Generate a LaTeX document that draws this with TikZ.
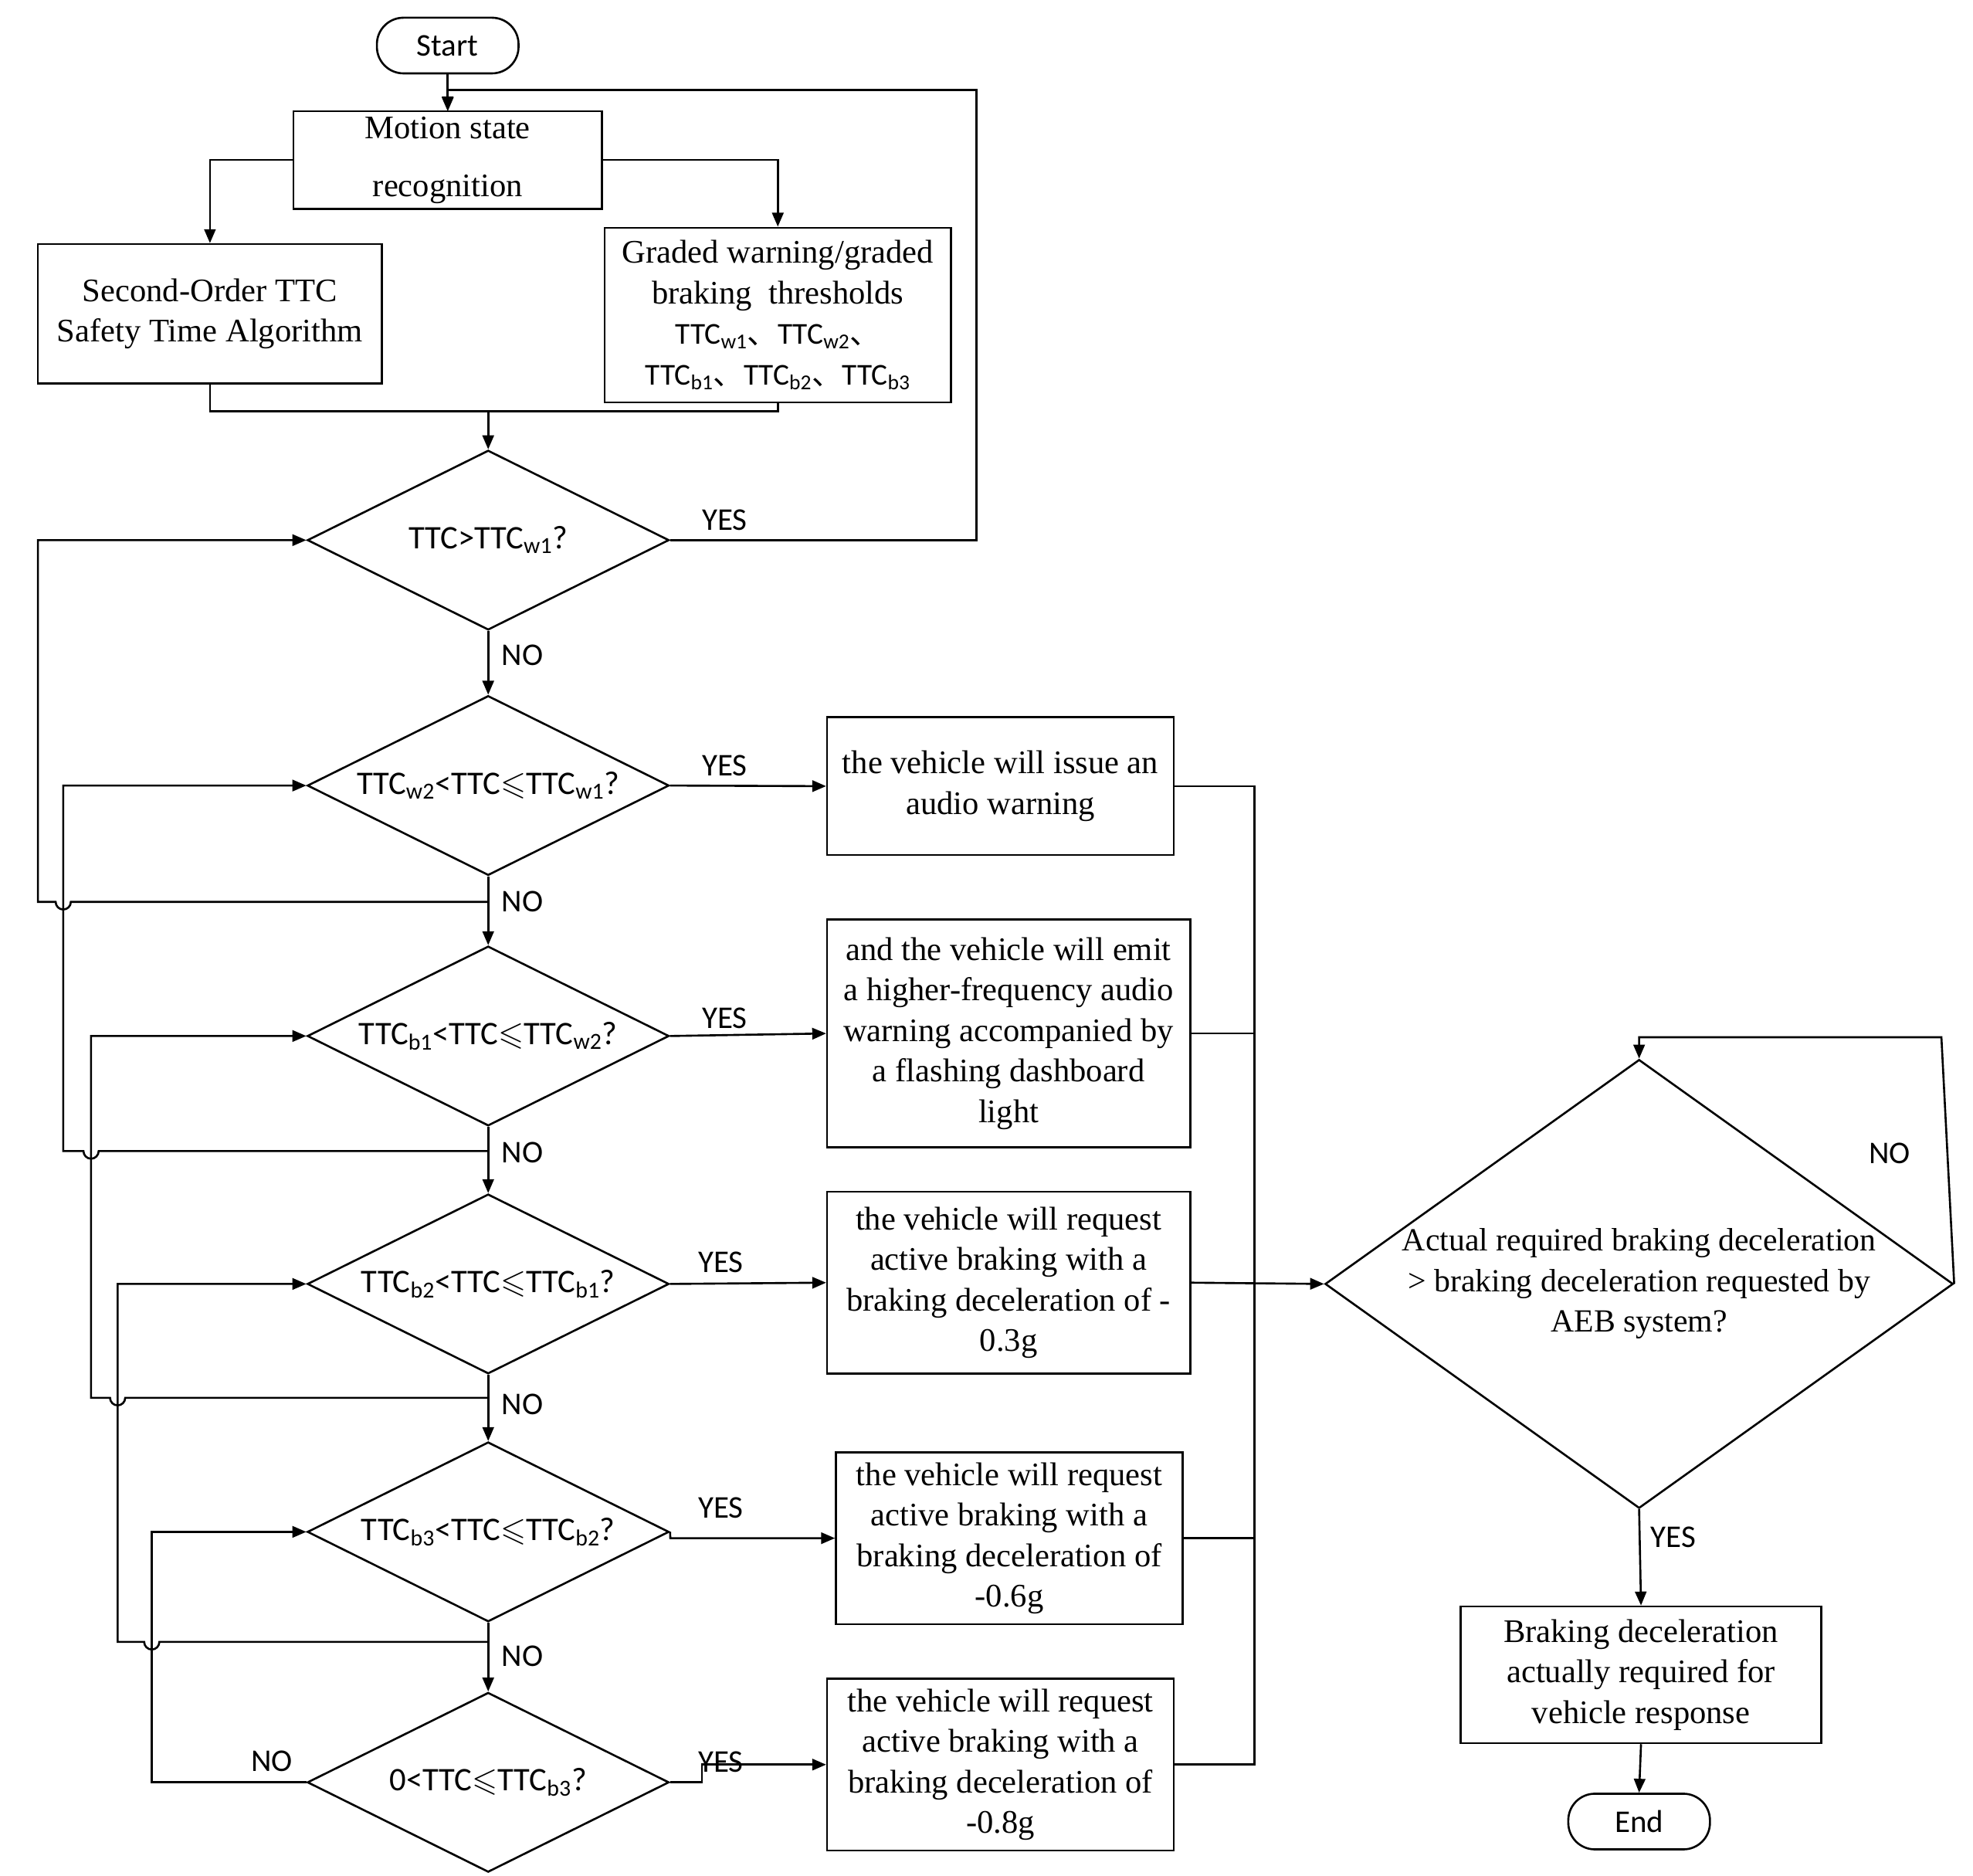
\documentclass[tikz,border=0pt]{standalone}
\usepackage{amssymb}
\usepackage{fontspec}
\setmainfont{Liberation Serif}
\newfontfamily\calfont{Carlito}
\newfontfamily\cjkf{Noto Sans CJK SC}
\newcommand{\dn}{\ensuremath{\leqslant}}
\newcommand{\sub}[1]{\textsubscript{#1}}
\newcommand{\dun}{{\cjkf 、}}
\usetikzlibrary{shapes.geometric,arrows.meta}
\begin{document}
\begin{tikzpicture}[x=1pt,y=-1pt,line width=1.6pt,
 box/.style={draw,rectangle,minimum width=#1,align=center,font=\fontsize{26}{32}\selectfont,inner sep=0},
 dia/.style={draw,diamond,aspect=2,minimum width=286,minimum height=142,inner sep=0,font=\calfont\fontsize{26}{28}\selectfont},
 term/.style={draw,rounded corners=21,minimum width=112,minimum height=44,font=\calfont\fontsize{25}{28}\selectfont},
 lab/.style={font=\calfont\fontsize{25}{28}\selectfont},
 arr/.style={-{Triangle[length=11,width=9]}}]
\useasboundingbox (0,0) rectangle (1560,1483);
\node[term] (start) at (354,36) {Start};
\node[box=244,minimum height=77] (msr) at (354,126.5) {Motion state\\[14pt]recognition};
\node[box=272,minimum height=110] (sec) at (166,248) {Second-Order TTC\\Safety Time Algorithm};
\node[box=274,minimum height=138] (grd) at (615,249) {Graded warning/graded\\braking\ \ thresholds\\{\calfont\fontsize{24}{28}\selectfont TTC\sub{w1}\dun TTC\sub{w2}\dun}\\{\calfont\fontsize{24}{28}\selectfont TTC\sub{b1}\dun TTC\sub{b2}\dun TTC\sub{b3}}};
\node[dia] (d1) at (386,427) {TTC>TTC\sub{w1}?};
\node[dia] (d2) at (386,621) {TTC\sub{w2}<TTC\dn TTC\sub{w1}?};
\node[dia] (d3) at (386,819) {TTC\sub{b1}<TTC\dn TTC\sub{w2}?};
\node[dia] (d4) at (386,1015) {TTC\sub{b2}<TTC\dn TTC\sub{b1}?};
\node[dia] (d5) at (386,1211) {TTC\sub{b3}<TTC\dn TTC\sub{b2}?};
\node[dia] (d6) at (386,1409) {0<TTC\dn TTC\sub{b3}?};
\node[box=274,minimum height=109] (b1) at (791,621.5) {the vehicle will issue an\\audio warning};
\node[box=287,minimum height=180] (b2) at (797.5,817) {and the vehicle will emit\\a higher-frequency audio\\warning accompanied by\\a flashing dashboard\\light};
\node[box=287,minimum height=144] (b3) at (797.5,1014) {the vehicle will request\\active braking with a\\braking deceleration of -\\0.3g};
\node[box=274,minimum height=136] (b4) at (798,1216) {the vehicle will request\\active braking with a\\braking deceleration of\\-0.6g};
\node[box=274,minimum height=136] (b5) at (791,1395) {the vehicle will request\\active braking with a\\braking deceleration of\\-0.8g};
\node[draw,diamond,aspect=1.4,minimum width=478,minimum height=340,inner sep=0,align=center,font=\fontsize{25.5}{32}\selectfont] (d7) at (1296,1015) {Actual required braking deceleration\\> braking deceleration requested by\\AEB system?};
\node[box=285,minimum height=108] (fin) at (1297.5,1324) {Braking deceleration\\actually required for\\vehicle response};
\node[term] (end) at (1296,1440) {End};
% labels
\node[lab] at (573,411) {YES};
\node[lab] at (573,605) {YES};
\node[lab] at (573,805) {YES};
\node[lab] at (570,998) {YES};
\node[lab] at (570,1192) {YES};
\node[lab] at (570,1393) {YES};
\foreach \y in {518,713,911,1110,1309} \node[lab] at (413,\y) {NO};
\node[lab] at (215,1392) {NO};
\node[lab] at (1494,912) {NO};
\node[lab] at (1323,1215) {YES};
% top
\draw[arr] (start.south) -- (msr.north);
\draw[arr] (msr.west) -| (sec.north);
\draw[arr] (msr.east) -| (grd.north);
\draw (sec.south) -- (166,325) -- (615,325) -- (grd.south);
\coordinate (m) at (386,325);
\draw[arr] (m) -- (d1.north);
\draw[arr] (d1.east) -- (772,427) -- (772,71) -- (354,71) -- (354,88);
% down chain
\foreach \a/\b in {d1/d2,d2/d3,d3/d4,d4/d5,d5/d6} \draw[arr] (\a.south) -- (\b.north);
% feedback loops
\def\r{6}
\draw[arr] (386,713) -- (56,713) arc[start angle=0,end angle=180,radius=\r] -- (30,713) -- (30,427) -- (d1.west);
\draw[arr] (386,910) -- (78,910) arc[start angle=0,end angle=180,radius=\r] -- (50,910) -- (50,621) -- (d2.west);
\draw[arr] (386,1105) -- (99,1105) arc[start angle=0,end angle=180,radius=\r] -- (72,1105) -- (72,819) -- (d3.west);
\draw[arr] (386,1298) -- (126,1298) arc[start angle=0,end angle=180,radius=\r] -- (93,1298) -- (93,1015) -- (d4.west);
\draw[arr] (d6.west) -- (120,1409) -- (120,1211) -- (d5.west);
% yes arrows
\draw[arr] (d2.east) -- (b1.west);
\draw[arr] (d3.east) -- (b2.west);
\draw[arr] (d4.east) -- (b3.west);
\draw[arr] (d5.east) -- (530,1216) -- (b4.west);
\draw[arr] (d6.east) -- (555,1409) -- (555,1395) -- (b5.west);
% right collector
\draw (b1.east) -- (992,621.5) -- (992,1395) -- (b5.east);
\draw (b2.east) -- (992,817);
\draw (b4.east) -- (992,1216);
\draw[arr] (b3.east) -- (d7.west);
\draw[arr] (d7.east) -- (1535,820) -- (1296,820) -- (d7.north);
\draw[arr] (d7.south) -- (fin.north);
\draw[arr] (fin.south) -- (end.north);
\end{tikzpicture}
\end{document}
